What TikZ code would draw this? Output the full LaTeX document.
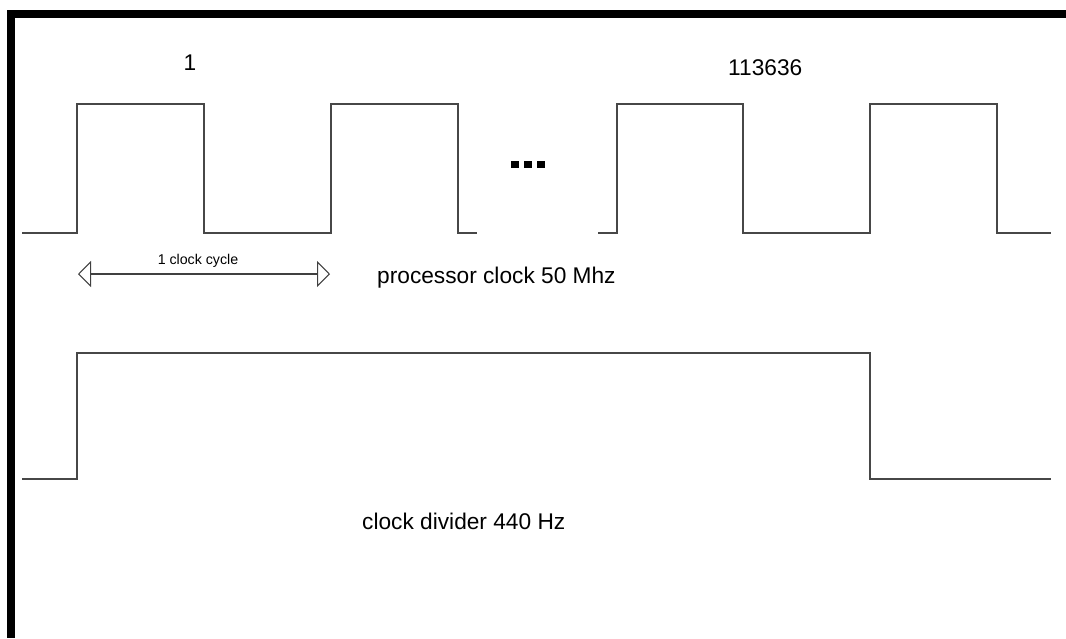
\documentclass[tikz,border=0pt]{standalone}
\usepackage{fontspec}
\setmainfont{Liberation Sans}
\usetikzlibrary{arrows.meta}
\begin{document}
\begin{tikzpicture}[x=1pt,y=-1pt,
  wave/.style={draw=black!72,line width=1.6pt,line join=miter},
  bigtext/.style={inner sep=0pt,font=\fontsize{22.7}{26}\selectfont},
  smalltext/.style={inner sep=0pt,font=\fontsize{14.2}{17}\selectfont},
  dimarrow/.style={draw=black!75,line width=1.4pt,{Triangle[open,length=13pt,width=26pt,line width=1pt]}-{Triangle[open,length=13pt,width=26pt,line width=1pt]}},
  dot/.style={fill=black}]
\useasboundingbox (0,0) rectangle (1066,638);
\fill[white] (0,0) rectangle (1066,638);
% frame
\fill[black] (7,10) rectangle (1066,18);
\fill[black] (7,10) rectangle (15,638);
% processor clock
\draw[wave] (22,233) -- (77,233) -- (77,104) -- (204,104) -- (204,233) -- (331,233) -- (331,104) -- (458,104) -- (458,233) -- (477,233);
\draw[wave] (598,233) -- (617,233) -- (617,104) -- (743,104) -- (743,233) -- (870,233) -- (870,104) -- (997,104) -- (997,233) -- (1051,233);
% dots
\fill[dot] (511,161) rectangle (519,168);
\fill[dot] (524,161) rectangle (532,168);
\fill[dot] (537,161) rectangle (545,168);
% divider clock
\draw[wave] (22,479) -- (77,479) -- (77,353) -- (870,353) -- (870,479) -- (1051,479);
% labels
\node[bigtext,anchor=base] (n1) at (190,70) {1};
\node[bigtext,anchor=base west] (nlast) at (728,75) {113636};
\node[bigtext,anchor=base west] (pclk) at (377,283) {processor clock 50 Mhz};
\node[bigtext,anchor=base west] (dclk) at (362,529) {clock divider 440 Hz};
% clock cycle arrow
\coordinate (a1) at (78,274);
\coordinate (a2) at (330,274);
\draw[dimarrow] (a1) -- (a2);
\node[smalltext,anchor=base] (cyc) at (198,264) {1 clock cycle};
\end{tikzpicture}
\end{document}
